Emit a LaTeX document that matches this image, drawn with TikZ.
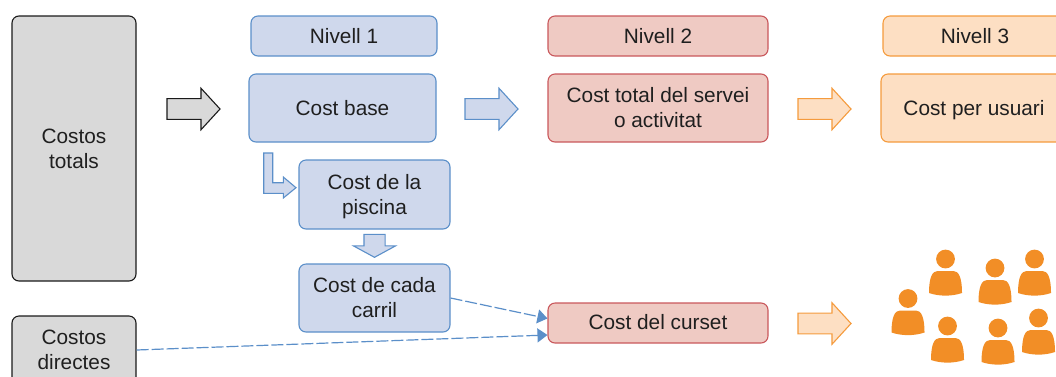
\documentclass[tikz,border=0pt]{standalone}
\usepackage{fontspec}
\setmainfont{Liberation Sans}
\usepackage{tikz}
\usetikzlibrary{shapes.arrows, arrows.meta, positioning}

\definecolor{grisvora}{HTML}{1A1A1A}
\definecolor{grisfons}{HTML}{D9D9D9}
\definecolor{blauvora}{HTML}{5B8FC9}
\definecolor{blaufons}{HTML}{CFD8EC}
\definecolor{vermellvora}{HTML}{C9585C}
\definecolor{vermellfons}{HTML}{EFCAC3}
\definecolor{taronjavora}{HTML}{F59B3D}
\definecolor{taronjafons}{HTML}{FDDFC3}
\definecolor{usuaricolor}{HTML}{F28E26}

\begin{document}
\begin{tikzpicture}[x=1pt, y=-1pt, line width=1.1pt]
    \tikzstyle{every node}=[font=\fontsize{20.8}{25}\selectfont, text=black!88]
    \tikzstyle{caixa}=[rectangle, rounded corners=7pt, align=center, inner sep=0pt]
    \tikzstyle{gris}=[caixa, draw=grisvora, fill=grisfons]
    \tikzstyle{blau}=[caixa, draw=blauvora, fill=blaufons]
    \tikzstyle{vermell}=[caixa, draw=vermellvora, fill=vermellfons]
    \tikzstyle{taronja}=[caixa, draw=taronjavora, fill=taronjafons]
    \tikzstyle{fletxa}=[single arrow, anchor=tail, outer sep=0pt, minimum height=53pt, inner sep=9.8pt, single arrow head extend=10.4pt, single arrow tip angle=95, single arrow head indent=0pt]
    \tikzstyle{discontinua}=[draw=blauvora, line width=1.2pt, dash pattern=on 12pt off 3pt, -{Triangle[length=10pt, width=14pt]}]
    \tikzset{usuari/.pic={
      \fill[usuaricolor] (0,0) circle (9.4pt);
      \fill[usuaricolor] (-16.5,34) .. controls (-16.5,18) and (-13,12) .. (-8,12) -- (8,12)
        .. controls (13,12) and (16.5,18) .. (16.5,34) .. controls (6,37.5) and (-6,37.5) .. (-16.5,34) -- cycle;
    }}
    \path[use as bounding box, clip] (0,0) rectangle (1056,376);

    \node [gris, minimum width=124pt, minimum height=265pt] (totals) at (74,148.5) {Costos\\totals};
    \node [gris, minimum width=124pt, minimum height=68pt] (directes) at (74,350) {Costos\\directes};

    \node [blau, minimum width=186pt, minimum height=40pt] (nivell1) at (344,36) {Nivell 1};
    \node [blau, minimum width=187pt, minimum height=68pt] (base) at (342.5,108) {Cost base};
    \node [blau, minimum width=151pt, minimum height=69pt, text depth=0pt] (piscina) at (374.5,194.5) {Cost de la\\piscina};
    \node [blau, minimum width=151pt, minimum height=68pt] (carril) at (374.5,298) {Cost de cada\\carril};

    \node [vermell, minimum width=220pt, minimum height=40pt] (nivell2) at (658,36) {Nivell 2};
    \node [vermell, minimum width=220pt, minimum height=68pt] (total) at (658,108) {Cost total del servei\\o activitat};
    \node [vermell, minimum width=220pt, minimum height=40pt, text depth=3pt] (curset) at (658,323) {Cost del curset};

    \node [taronja, minimum width=184pt, minimum height=40pt] (nivell3) at (975,36) {Nivell 3};
    \node [taronja, minimum width=186pt, minimum height=68pt, text depth=0pt] (usuari) at (974,108) {Cost per usuari};

    \node [fletxa, draw=grisvora, fill=grisfons] (fletxa1) at (167,109) {};
    \node [fletxa, draw=blauvora, fill=blaufons] (fletxa2) at (465,109) {};
    \node [fletxa, draw=taronjavora, fill=taronjafons] (fletxa3) at (798,109) {};
    \node [fletxa, draw=taronjavora, fill=taronjafons] (fletxa4) at (798,323.5) {};
    \node [fletxa, rotate=-90, draw=blauvora, fill=blaufons, minimum height=23pt, inner xsep=0pt, inner ysep=10pt, single arrow tip angle=123] (fletxa5) at (374.5,234.3) {};

    % fletxa doblegada
    \draw [draw=blauvora, fill=blaufons] (263.7,153) -- (272.7,153) -- (272.7,182.7) -- (283.3,182.7) -- (283.3,177)
      -- (296,187.7) -- (283.3,198) -- (283.3,193.3) -- (263.7,193.3) -- cycle;

    \draw [discontinua] (carril.east) -- ([yshift=4.5pt]curset.west);
    \draw [discontinua] (directes.east) -- ([yshift=-12pt]curset.west);

    \foreach \px/\py in {908/298.5, 945.5/259, 995/268, 1034.5/259, 947.5/326, 998/328, 1038.5/318}
      \pic at (\px,\py) {usuari};
  \end{tikzpicture}
\end{document}
